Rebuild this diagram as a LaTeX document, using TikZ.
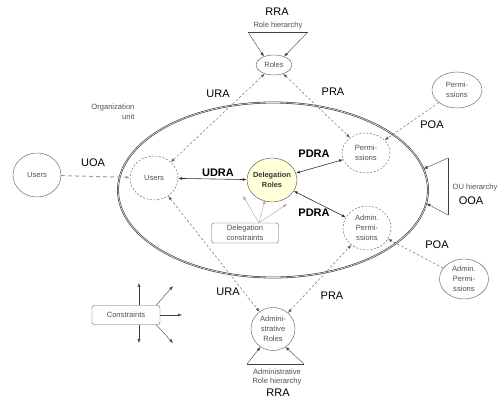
\documentclass[tikz,border=0pt]{standalone}
\usepackage{fontspec}
\setmainfont{Liberation Sans}
\usetikzlibrary{shapes.geometric,arrows.meta}

\definecolor{txtgray}{HTML}{505050}
\definecolor{linegray}{HTML}{5A5A5A}
\definecolor{delegfill}{HTML}{FFFFD8}

\tikzset{
    small/.style={font=\fontsize{7.6}{9.8}\selectfont, text=txtgray, align=center},
    big/.style={font=\fontsize{11}{13}\selectfont},
    bigb/.style={font=\fontsize{11}{13}\selectfont\bfseries},
    entity/.style={small, draw=linegray, ellipse, inner sep=0pt},
    localent/.style={entity, dash pattern=on 2pt off 1.6pt},
    tip/.tip={Latex[length=4pt,width=3pt]},
    assign/.style={draw=linegray, dash pattern=on 2.5pt off 2pt, tip-tip},
    ownassign/.style={draw=linegray, dash pattern=on 2.5pt off 2pt, -tip},
    deleg/.style={draw=black!80, line width=0.6pt, tip-tip},
    hier/.style={draw=black!75, -tip},
    fan/.style={draw=gray!70, -tip},
    cstbox/.style={small, draw=linegray, rounded corners=2.5pt, inner sep=1pt}
}

\begin{document}
\begin{tikzpicture}[x=1pt,y=-1pt]
        \useasboundingbox (0,0) rectangle (504,398);

        % organization unit
        \node[draw=black!80, double=gray!25, double distance=0.7pt, line width=0.55pt, ellipse,
              minimum width=310, minimum height=175] (org) at (273,190) {};
        \node[small, anchor=east, align=right] (orglbl) at (138,112) {Organization\\unit};

        % entities
        \node[entity, minimum width=48, minimum height=44] (usersout) at (37,175) {Users};
        \node[localent, minimum width=48, minimum height=44] (usersin) at (154,178) {Users};
        \node[entity, minimum width=36, minimum height=20] (roles) at (274,65) {Roles};
        \node[entity, draw=black!70, fill=delegfill, font=\fontsize{7.4}{9.4}\selectfont\bfseries,
              text=black!80, inner xsep=-4pt, minimum width=50, minimum height=44] (deleg) at (272,180) {Delegation\\Roles};
        \node[localent, minimum width=48, minimum height=40] (permin) at (366,153) {Permi-\\ssions};
        \node[localent, minimum width=48, minimum height=44] (apermin) at (367,228) {Admin.\\Permi-\\ssions};
        \node[entity, minimum width=50, minimum height=36] (permout) at (457,90) {Permi-\\ssions};
        \node[entity, minimum width=49, minimum height=40] (apermout) at (464,279) {Admin.\\Permi-\\ssions};
        \node[entity, minimum width=44, minimum height=43] (aroles) at (273,329) {Admini-\\strative\\Roles};
        \node[cstbox, minimum width=67, minimum height=20] (dcons) at (245,233) {Delegation\\constraints};
        \node[cstbox, minimum width=68, minimum height=19] (cons) at (126,315) {Constraints};

        % role hierarchy
        \coordinate (rh1) at (248,32);
        \coordinate (rh2) at (308,32);
        \draw[black!75] (rh1) -- (rh2);
        \draw[hier] (rh1) -- (roles.140);
        \draw[hier] (rh2) -- (roles.40);
        \node[small] (rhlbl) at (278,26) {Role hierarchy};
        \node[big] (rra1) at (277,12) {RRA};

        % administrative role hierarchy
        \coordinate (ah1) at (247,364);
        \coordinate (ah2) at (304,364);
        \draw[black!75] (ah1) -- (ah2);
        \draw[hier] (ah1) -- (aroles.235);
        \draw[hier] (ah2) -- (aroles.305);
        \node[small, font=\fontsize{7.6}{9}\selectfont] (ahlbl) at (277,377) {Administrative\\Role hierarchy};
        \node[big] (rra2) at (278,393) {RRA};

        % OU hierarchy
        \coordinate (oh1) at (448,158);
        \coordinate (oh2) at (448,215);
        \draw[black!75] (oh1) -- (oh2);
        \draw[hier] (oh1) -- (org.8);
        \draw[hier] (oh2) -- (org.-5);
        \node[small] (ohlbl) at (475,188) {OU hierarchy};
        \node[big] (ooa) at (471,201) {OOA};

        % assignments
        \draw[draw=gray!75, line width=1pt, dash pattern=on 4pt off 3pt, -tip] (usersout) -- (usersin);
        \node[big] (uoa) at (93,163) {UOA};
        \draw[assign] (usersin) -- (roles);
        \node[big] (ura1) at (218,94) {URA};
        \draw[assign] (roles) -- (permin);
        \node[big] (pra1) at (333,92) {PRA};
        \draw[ownassign] (permout) -- (permin);
        \node[big] (poa1) at (432,125) {POA};
        \draw[ownassign] (apermout) -- (apermin);
        \node[big] (poa2) at (437,245) {POA};
        \draw[assign] (usersin) -- (aroles);
        \node[big] (ura2) at (228,292) {URA};
        \draw[assign] (aroles) -- (apermin);
        \node[big] (pra2) at (332,296) {PRA};

        % delegation
        \draw[deleg] (usersin) -- (deleg);
        \node[bigb] (udra) at (218,173) {UDRA};
        \draw[deleg] (deleg) -- (permin);
        \node[bigb] (pdra1) at (314,154) {PDRA};
        \draw[deleg] (deleg) -- (apermin);
        \node[bigb] (pdra2) at (314,213) {PDRA};

        % delegation constraints
        \coordinate (d1) at (243,196);
        \coordinate (d2) at (265,200);
        \coordinate (d3) at (287,204);
        \foreach \t in {d1,d2,d3} {
                \draw[fan] ([xshift=14pt]dcons.north) -- (\t);
        }

        % constraints
        \coordinate (cu) at (139,283);
        \coordinate (cur) at (173,286);
        \coordinate (cr) at (182,315);
        \coordinate (cdr) at (173,343);
        \coordinate (cd) at (139,343);
        \draw[hier] (cons.north -| cu) -- (cu);
        \draw[hier] (cons.south -| cd) -- (cd);
        \draw[hier] (cons.east) -- (cr);
        \draw[hier] ([xshift=-4pt]cons.north east) -- (cur);
        \draw[hier] ([xshift=-4pt]cons.south east) -- (cdr);

\end{tikzpicture}
\end{document}
